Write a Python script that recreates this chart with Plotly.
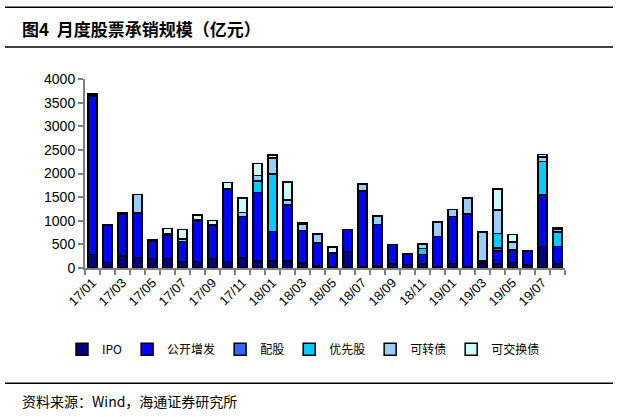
import plotly.graph_objects as go

months = ["17/01","17/02","17/03","17/04","17/05","17/06","17/07","17/08","17/09","17/10","17/11","17/12",
          "18/01","18/02","18/03","18/04","18/05","18/06","18/07","18/08","18/09","18/10","18/11","18/12",
          "19/01","19/02","19/03","19/04","19/05","19/06","19/07","19/08"]

ipo      = [290,120,250,220,200,200,140,140,190,140,215,145, 150,145,110, 40, 30,350, 30, 40, 80, 70, 90, 20,  95, 30,110, 90,120, 60,450, 80]
public   = [3350,790,880,930,360,490,420,840,720,1530,875,1450, 620,1190,680,490,290,460,1600,880,420,230,200,650, 1000,1110,40,270,260,300,1100,380]
rights   = [0,0,0,20,0,30,0,0,0,0,0,0, 0,0,0,0,0,0,0,0,0,0,0,0, 0,0,0,60,0,0,0,0]
pref     = [0,0,0,0,0,0,0,0,0,0,0,250, 1220,0,0,0,0,0,0,0,0,0,120,0, 0,0,0,310,0,0,700,300]
convert  = [0,0,0,390,0,0,50,40,0,0,90,110, 340,100,130,190,0,0,150,185,0,0,100,300, 140,340,610,500,170,0,100,60]
exchange = [40,0,30,0,30,120,200,100,100,140,300,260, 60,380,30,0,120,0,0,0,0,0,0,0, 0,0,0,440,155,0,50,30]

series_names = ["IPO", "公开增发", "配股", "优先股", "可转债", "可交换债"]
series_vals = [ipo, public, rights, pref, convert, exchange]
colors = ["#000080", "#0000FF", "#3366FF", "#00CCFF", "#99CCFF", "#CCFFFF"]

y_ticks = [0, 500, 1000, 1500, 2000, 2500, 3000, 3500, 4000]

x_idx = list(range(len(months)))

fig = go.Figure()
for name, vals, col in zip(series_names, series_vals, colors):
    fig.add_trace(go.Bar(x=x_idx, y=vals, name=name,
                         marker=dict(color=col, line=dict(color="black", width=1.5))))

L, R, T, B = 85, 53, 79, 148.5
W, H = 618, 417
pw = W - L - R
ph = H - T - B

def px(x):
    return (x - L) / pw

def py(y):
    return (H - B - y) / ph

fig.update_layout(
    width=W, height=H,
    margin=dict(l=L, r=R, t=T, b=B),
    barmode="stack", bargap=0.42,
    paper_bgcolor="white", plot_bgcolor="white",
    font=dict(family="Arial, Liberation Sans, sans-serif", size=13, color="black"),
    showlegend=True,
    legend=dict(orientation="h", x=px(62), xanchor="left", y=py(350), yanchor="middle",
                font=dict(family="Noto Sans CJK SC", size=12),
                itemwidth=30, tracegroupgap=0, traceorder="normal"),
    xaxis=dict(range=[-0.5, len(months) - 0.5], tickmode="array",
               tickvals=x_idx[0::2], ticktext=months[0::2], tickangle=-45,
               ticks="", showline=True, linecolor="#808080", linewidth=2,
               showgrid=False, zeroline=False,
               tickfont=dict(family="Arial, Liberation Sans", size=13),
               minor=dict(ticks="outside", tick0=-0.5, dtick=1, ticklen=5,
                          tickcolor="#808080", tickwidth=2, showgrid=False)),
    yaxis=dict(range=[0, 4000], tickmode="array", tickvals=y_ticks,
               ticks="outside", ticklen=5, tickcolor="#808080", tickwidth=2,
               showline=True, linecolor="#808080", linewidth=2,
               showgrid=False, zeroline=False,
               tickfont=dict(family="Arial, Liberation Sans", size=14)),
)

for yy in [7, 47, 384]:
    fig.add_shape(type="line", xref="paper", yref="paper",
                  x0=px(5), x1=px(613), y0=py(yy), y1=py(yy),
                  line=dict(color="black", width=1.5))

fig.add_annotation(xref="paper", yref="paper", x=px(20), y=py(28), xanchor="left", yanchor="middle",
                   text="<b>图4  月度股票承销规模（亿元）</b>", showarrow=False,
                   font=dict(family="Noto Sans CJK SC", size=17, color="black"))
fig.add_annotation(xref="paper", yref="paper", x=px(20), y=py(402), xanchor="left", yanchor="middle",
                   text="资料来源：Wind，海通证券研究所", showarrow=False,
                   font=dict(family="Noto Sans CJK SC", size=14, color="black"))

fig.write_html("out.html")
